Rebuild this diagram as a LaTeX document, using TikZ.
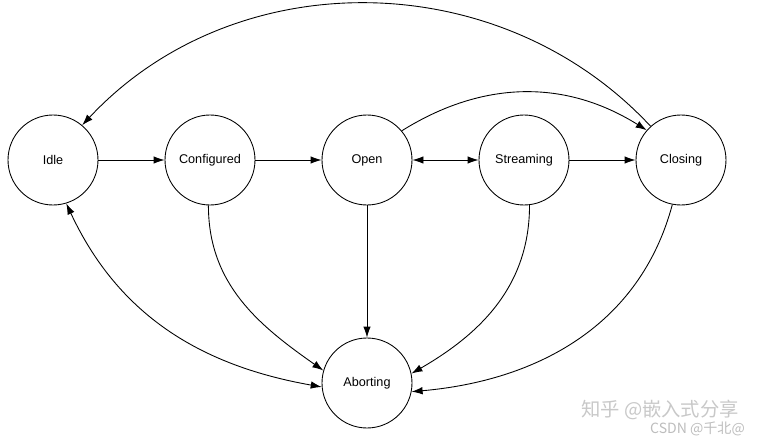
\documentclass[tikz,border=0pt]{standalone}
\usepackage{fontspec}
\setmainfont{Liberation Sans}
\newfontfamily\cjk{Noto Sans CJK SC}
\usetikzlibrary{arrows.meta, positioning}
\definecolor{wmGray}{HTML}{C8C8C8}

\begin{document}
\begin{tikzpicture}[line width=0.5pt,
      st/.style={draw, circle, minimum size=1.8cm, inner sep=0pt,
                 font=\fontsize{7.2}{8}\selectfont},
      tr/.style={-{Latex[length=2.2mm, width=1.5mm]}},
      bi/.style={{Latex[length=2.2mm, width=1.5mm]}-{Latex[length=2.2mm, width=1.5mm]}}]
    \useasboundingbox (0,0) rectangle (15.14,-8.86);
    \node[st] (idle) at (1.06,-3.2)  {Idle};
    \node[st] (conf) at (4.2,-3.2)   {Configured};
    \node[st] (open) at (7.34,-3.2)  {Open};
    \node[st] (strm) at (10.48,-3.2) {Streaming};
    \node[st] (clos) at (13.62,-3.2) {Closing};
    \node[st] (abrt) at (7.34,-7.66) {Aborting};
    \draw[tr] (idle) -- (conf);
    \draw[tr] (conf) -- (open);
    \draw[bi] (open) -- (strm);
    \draw[tr] (strm) -- (clos);
    \draw[tr] (open.40) to[out=32, in=148] (clos.139);
    \draw[tr] (clos.132) to[out=133, in=47] (idle.50);
    \draw[tr] (open) -- (abrt);
    \draw[bi] (idle.287) to[out=-65, in=170] (abrt.185);
    \draw[tr] (conf.268) to[out=-90, in=145] (abrt.164);
    \draw[tr] (strm.277) to[out=-90, in=30] (abrt.12);
    \draw[tr] (clos.259) to[out=-105, in=5] (abrt.349);
    % watermark
    \node[wmGray, font=\cjk\fontsize{11}{12}\selectfont] (wm1) at (13.2,-8.2) {知乎 @嵌入式分享};
    \node[wmGray!120, font=\fontsize{8}{9}\selectfont\cjk] (wm2) at (13.95,-8.58) {CSDN @千北@};
  \end{tikzpicture}
\end{document}
